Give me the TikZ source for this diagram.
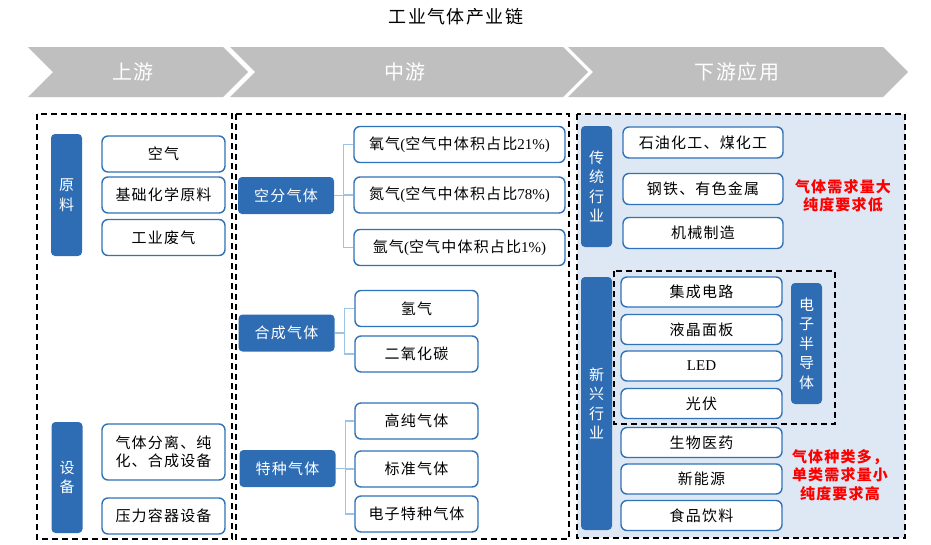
\documentclass[tikz,border=0pt]{standalone}
\usepackage{fontspec}
\setmainfont{Noto Sans CJK SC}[LetterSpace=8]
\newfontfamily\latin{Liberation Serif}
\usepackage{tikz}
\definecolor{barblue}{HTML}{2E6DB4}
\definecolor{edgeblue}{HTML}{2F72B8}
\definecolor{linkblue}{HTML}{9DC3E6}
\definecolor{chevgray}{HTML}{BFBFBF}
\definecolor{panel}{HTML}{DEE8F4}
\definecolor{alert}{HTML}{FF0000}
\newcommand{\tnr}[1]{{\latin #1}}
\tikzset{
  item/.style={draw=edgeblue,line width=1.4pt,rounded corners=6pt,fill=white,align=center,
    font=\fontsize{15}{18}\selectfont,inner sep=0pt,minimum height=36pt},
  bar/.style={fill=barblue,rounded corners=4pt,text=white,align=center,inner sep=0pt,
    font=\fontsize{15}{19.5}\selectfont,minimum width=31pt},
  head/.style={bar,minimum width=96pt,minimum height=37pt},
  frame/.style={draw=black,line width=1.8pt,dash pattern=on 6pt off 4pt},
  link/.style={draw=linkblue,line width=1.3pt},
  chev/.style={fill=chevgray},
  chevtext/.style={text=white,font=\fontsize{20}{24}\selectfont},
  remark/.style={text=alert,font=\fontsize{15}{18.5}\selectfont\bfseries,align=center},
}

\begin{document}
\begin{tikzpicture}[x=1pt,y=-1pt]
  \useasboundingbox (0,0) rectangle (931,544);
  \node[font=\fontsize{18}{20}\selectfont] (title) at (456,17) {工业气体产业链};
  % chevrons
  \foreach \a/\b/\c/\n/\t in {28/223/133/up/上游,230/563/405/mid/中游,568/883/737/down/下游应用}{
    \fill[chev] (\a,47) -- (\b,47) -- (\b+25,72) -- (\b,97) -- (\a,97) -- (\a+25,72) -- cycle;
    \node[chevtext] (\n) at (\c,72) {\t};
  }
  % frames
  \fill[panel] (577,114) rectangle (905,538);
  \draw[frame] (37,114) rectangle (232,539);
  \draw[frame] (236,114) rectangle (569,539);
  \draw[frame] (577,114) rectangle (905,538);
  \draw[frame] (614,271) rectangle (835,424);

  % upstream
  \node[bar,minimum height=122pt] (raw) at (66.5,195) {原\\料};
  \foreach \y/\n/\t in {154/air/空气,195/chem/基础化学原料,237.5/waste/工业废气}
    \node[item,minimum width=123pt] (\n) at (163.5,\y) {\t};
  \node[bar,minimum height=111pt] (equip) at (67,477.5) {设\\备};
  \node[item,minimum width=123pt,minimum height=56pt] (sep) at (163.5,452) {气体分离、纯\\化、合成设备};
  \node[item,minimum width=123pt] (vessel) at (163.5,516) {压力容器设备};

  % midstream
  \node[head] (asu) at (286,195.5) {空分气体};
  \node[head] (syn) at (286.5,333) {合成气体};
  \node[head] (spec) at (287.5,468.5) {特种气体};
  \foreach \y/\n/\t in {144.5/oxy/{氧气\tnr{(}空气中体积占比\tnr{21\%)}},
      195/nit/{氮气\tnr{(}空气中体积占比\tnr{78\%)}},
      247.5/arg/{氩气\tnr{(}空气中体积占比\tnr{1\%)}}}
    \node[item,minimum width=211pt] (\n) at (459.5,\y) {\t};
  \foreach \y/\n/\t in {308.5/hyd/氢气,354/cod/二氧化碳}
    \node[item,minimum width=123pt] (\n) at (416.5,\y) {\t};
  \foreach \y/\n/\t in {421/pure/高纯气体,469/std/标准气体,514/elec/电子特种气体}
    \node[item,minimum width=123pt] (\n) at (416.5,\y) {\t};
  \draw[link] (asu.east) -- ++(9,0) coordinate (asuj);
  \foreach \n in {oxy,nit,arg} \draw[link] (asuj) |- (\n.west);
  \draw[link] (syn.east) -- ++(10,0) coordinate (synj);
  \foreach \n in {hyd,cod} \draw[link] (synj) |- (\n.west);
  \draw[link] (spec.east) -- ++(10,0) coordinate (specj);
  \foreach \n in {pure,std,elec} \draw[link] (specj) |- (\n.west);

  % downstream
  \node[bar,minimum height=121pt] (trad) at (596.5,186.5) {传\\统\\行\\业};
  \foreach \y/\n/\t in {142.5/petro/石油化工、煤化工,189/steel/钢铁、有色金属,233/mach/机械制造}
    \node[item,minimum width=160pt,minimum height=31pt] (\n) at (703,\y) {\t};
  \node[remark] (bulk) at (843,196) {气体需求量大\\纯度要求低};
  \node[bar,minimum height=253pt] (emerg) at (596.5,403.5) {新\\兴\\行\\业};
  \foreach \y/\n/\t in {292/ic/集成电路,329.5/lcd/液晶面板,366/led/\tnr{LED},403.5/pv/光伏,
      442.5/bio/生物医药,479/nev/新能源,515.5/food/食品饮料}
    \node[item,minimum width=161pt,minimum height=30pt] (\n) at (701.5,\y) {\t};
  \node[bar,minimum height=121pt] (semi) at (806.5,343.5) {电\\子\\半\\导\\体};
  \node[remark] (fine) at (840,475) {气体种类多，\\单类需求量小\\纯度要求高};
\end{tikzpicture}
\end{document}
